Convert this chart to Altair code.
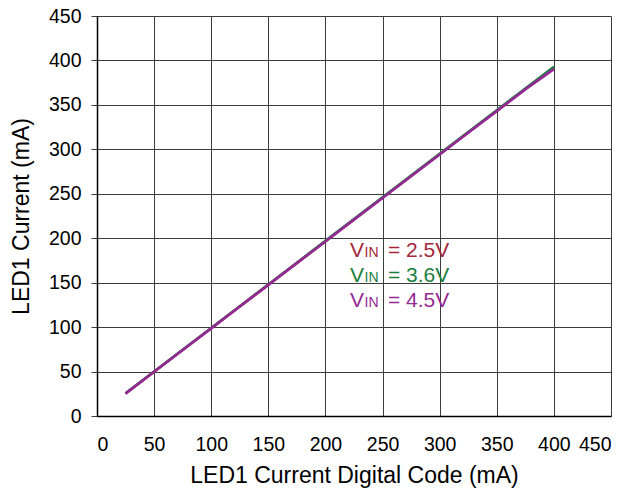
import altair as alt
import pandas as pd

# LED1 current measured against the programmed digital code, three supply voltages
codes = [25, 50, 75, 100, 125, 150, 175, 200, 225, 250, 275, 300, 325, 350, 375, 400]
current_25v = [25.3, 49.8, 74.3, 98.8, 123.2, 147.7, 172.2, 196.6, 221.1, 245.6,
               270.0, 294.5, 318.9, 343.4, 367.8, 391.8]
current_36v = [25.5, 50.0, 74.5, 99.0, 123.5, 148.0, 172.5, 197.0, 221.5, 246.0,
               270.5, 295.0, 319.5, 344.0, 368.5, 393.0]
current_45v = [25.2, 49.7, 74.2, 98.6, 123.1, 147.5, 172.0, 196.4, 220.9, 245.3,
               269.7, 294.2, 318.6, 343.0, 367.4, 390.2]

series_names = ["2.5V", "3.6V", "4.5V"]
series_colors = ["#a3283a", "#1b7f3e", "#952a95"]
label_y = [178.8, 150.8, 122.8]

font = "Liberation Sans"

rows = []
for name, vals in zip(series_names, [current_25v, current_36v, current_45v]):
    for c, v in zip(codes, vals):
        rows.append({"code": c, "current": v, "vin": name})
df = pd.DataFrame(rows)

labels = pd.DataFrame({
    "vin": series_names,
    "x": [221.5] * 3,
    "y": label_y,
    "rest": ["= " + n for n in series_names],
})

color_scale = alt.Scale(domain=series_names, range=series_colors)

x_enc = alt.X(
    "code:Q",
    scale=alt.Scale(domain=[0, 450], nice=False),
    axis=alt.Axis(
        values=list(range(0, 451, 50)),
        title="LED1 Current Digital Code (mA)",
        titleFontSize=23, titleFont=font, titleFontWeight="normal",
        titleBaseline="alphabetic", titleY=66,
        labelFontSize=19.5, labelFont=font, labelPadding=19,
        ticks=False, domainColor="black", domainWidth=1.5,
        gridColor="#3c3c3c", gridWidth=1, gridOpacity=1,
        labelColor="black", titleColor="black",
    ),
)
y_enc = alt.Y(
    "current:Q",
    scale=alt.Scale(domain=[0, 450], nice=False),
    axis=alt.Axis(
        values=list(range(0, 451, 50)),
        title="LED1 Current (mA)",
        titleFontSize=23, titleFont=font, titleFontWeight="normal",
        titleBaseline="alphabetic", titleX=-69,
        labelFontSize=19.5, labelFont=font, labelPadding=10,
        tickSize=6, tickColor="#3c3c3c",
        domainColor="black", domainWidth=1.5,
        gridColor="#3c3c3c", gridWidth=1, gridOpacity=1,
        labelColor="black", titleColor="black",
    ),
)

lines = alt.Chart(df).mark_line(strokeWidth=2.6).encode(
    x=x_enc,
    y=y_enc,
    color=alt.Color("vin:N", scale=color_scale, legend=None),
    order=alt.Order("code:Q"),
)

base_lbl = alt.Chart(labels).encode(
    x=alt.X("x:Q"),
    y=alt.Y("y:Q"),
    color=alt.Color("vin:N", scale=color_scale, legend=None),
)
lbl_v = base_lbl.mark_text(align="left", baseline="alphabetic", fontSize=21, font=font).encode(
    text=alt.value("V"))
lbl_in = base_lbl.mark_text(align="left", baseline="alphabetic", fontSize=14, font=font, dx=14.5).encode(
    text=alt.value("IN"))
lbl_rest = base_lbl.mark_text(align="left", baseline="alphabetic", fontSize=21, font=font, dx=38).encode(
    text="rest:N")

chart = alt.layer(lines, lbl_v, lbl_in, lbl_rest).properties(
    width=514, height=400,
    autosize=alt.AutoSizeParams(type="none"),
    padding={"left": 97, "top": 16, "right": 18, "bottom": 81},
).configure_view(stroke=None).configure(background="white")

chart.save("out.html", embed_options={"renderer": "svg", "actions": False})
